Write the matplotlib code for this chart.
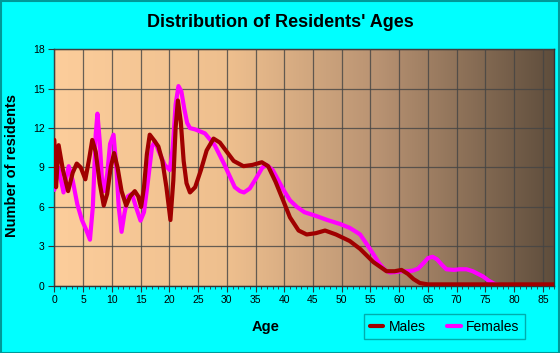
import numpy as np
import matplotlib.pyplot as plt
from matplotlib.colors import LinearSegmentedColormap
from matplotlib.patches import Rectangle

plt.rcParams['font.family'] = ['Liberation Sans', 'DejaVu Sans']

# Males: age -> number of residents
male_age = [0, 0.3, 0.75, 1.5, 2.4, 3.2, 3.9, 4.6, 5.4, 6.0, 6.6, 7.2, 7.9, 8.6, 9.2,
            9.8, 10.4, 11.0, 11.7, 12.5, 13.2, 14.0, 14.6, 15.1, 15.6, 16.1, 16.6,
            17.3, 18.1, 18.8, 19.5, 20.2, 20.7, 21.1, 21.5, 22.0, 22.5, 23.0, 23.6,
            24.5, 25.5, 26.5, 27.7, 28.8, 30.0, 31.2, 32.9, 34.5, 36.1, 37.2, 38.5,
            39.8, 41.0, 42.5, 43.9, 45.5, 47.1, 49.0, 51.4, 53.2, 55.5, 57.8, 59.2,
            60.4, 61.5, 62.5, 63.6, 65, 70, 75, 80, 87]
male_val = [11.1, 7.5, 10.7, 8.8, 7.2, 8.6, 9.3, 9.0, 8.1, 9.5, 11.1, 10.2, 7.8, 6.1, 7.0,
            9.0, 10.1, 9.0, 7.2, 6.1, 6.8, 7.2, 6.8, 6.0, 7.5, 10.0, 11.5,
            11.1, 10.6, 9.5, 7.5, 5.0, 8.0, 12.0, 14.1, 12.5, 9.5, 7.8, 7.1,
            7.5, 8.8, 10.3, 11.2, 10.9, 10.2, 9.5, 9.1, 9.2, 9.4, 9.1, 7.9,
            6.5, 5.2, 4.2, 3.9, 4.0, 4.2, 3.9, 3.4, 2.8, 1.8, 1.1, 1.1,
            1.2, 0.9, 0.5, 0.2, 0.1, 0.1, 0.1, 0.1, 0.1]

# Females
female_age = [0, 0.7, 1.6, 2.5, 3.2, 4.0, 4.8, 5.5, 6.2, 6.7, 7.2, 7.5, 7.9, 8.3, 8.7,
              9.2, 9.7, 10.3, 10.8, 11.2, 11.7, 12.2, 12.8, 13.5, 14.2, 15.0, 15.6,
              16.3, 17.0, 17.5, 18.2, 19.2, 20.1, 20.6, 21.1, 21.6, 22.1, 22.6, 23.1,
              23.6, 24.5, 26.2, 27.9, 29.5, 31.4, 32.3, 33.0, 34.0, 35.0, 36.2, 36.9,
              38.0, 39.0, 40.0, 41.0, 42.2, 43.5, 45.6, 47.5, 49.7, 51.4, 52.5, 53.2,
              54.3, 55.5, 56.5, 57.5, 58.4, 59.5, 60.5, 61.5, 62.4, 63.3, 64.2, 65.0,
              65.8, 66.6, 67.4, 68.2, 69.5, 70.5, 71.7, 72.8, 73.7, 74.6, 75.5, 76.5,
              77.5]
female_val = [7.3, 9.0, 7.1, 9.1, 8.0, 6.2, 5.0, 4.3, 3.5, 6.0, 11.5, 13.1, 11.0, 8.0, 7.2,
              8.5, 10.8, 11.5, 9.0, 6.0, 4.1, 5.5, 6.8, 7.0, 6.0, 4.95, 5.6,
              8.0, 10.6, 11.0, 10.2, 9.2, 8.8, 10.5, 13.8, 15.2, 14.8, 13.5, 12.4,
              12.0, 11.9, 11.6, 10.7, 9.3, 7.5, 7.2, 7.1, 7.4, 8.1, 9.0, 9.2,
              8.8, 8.0, 7.2, 6.5, 6.0, 5.6, 5.3, 5.0, 4.7, 4.4, 4.1, 3.9,
              3.2, 2.4, 1.7, 1.2, 1.0, 1.05, 1.1, 1.1, 1.15, 1.3, 1.7, 2.1,
              2.2, 2.0, 1.6, 1.25, 1.2, 1.25, 1.25, 1.1, 0.9, 0.7, 0.4, 0.15,
              0.05]

x_ticks = list(range(0, 90, 5))
y_ticks = [0, 3, 6, 9, 12, 15, 18]

fig = plt.figure(figsize=(5.6, 3.53), dpi=100, facecolor='#00FFFF')
fig.patches.append(Rectangle((0.001, 0.001), 0.997, 0.996, transform=fig.transFigure,
                             fill=False, edgecolor='#009999', linewidth=1.5))
ax = fig.add_axes([0.097, 0.1907, 0.893, 0.6696])

# background gradient
cmap = LinearSegmentedColormap.from_list('bg', [(0.0, '#FCCD9B'), (0.35, '#EEBF8E'),
                                                (0.65, '#B89272'), (1.0, '#5E4D3C')])
grad = np.linspace(0, 1, 256).reshape(1, -1)
ax.imshow(grad, cmap=cmap, extent=[0, 87, 0, 18], aspect='auto', zorder=0)

ax.plot(female_age, female_val, color='#FF00FF', lw=3, solid_joinstyle='round',
        solid_capstyle='round', label='Females', zorder=3)
ax.plot(male_age, male_val, color='#A00000', lw=3, solid_joinstyle='round',
        solid_capstyle='round', label='Males', zorder=4)

ax.set_xlim(0, 87)
ax.set_ylim(0, 18)
ax.set_xticks(x_ticks)
ax.set_xticks(range(0, 88), minor=True)
ax.set_yticks(y_ticks)
ax.grid(True, color='#444444', lw=0.9, alpha=0.8, zorder=1)
ax.set_axisbelow(False)
for s in ax.spines.values():
    s.set_color('#333333')
    s.set_linewidth(1)
ax.tick_params(axis='both', which='major', labelsize=7.5, length=4, color='#333333', pad=3)
ax.tick_params(axis='x', which='minor', length=2.5, color='#333333')

fig.text(0.5, 0.935, "Distribution of Residents' Ages", ha='center', va='center',
         fontsize=13, fontweight='bold')
fig.text(0.475, 0.073, 'Age', ha='center', va='center', fontsize=10.5, fontweight='bold')
fig.text(0.022, 0.53, 'Number of residents', ha='center', va='center', rotation=90,
         fontsize=10.5, fontweight='bold')

h, l = ax.get_legend_handles_labels()
leg = fig.legend(h[::-1], l[::-1], loc='center', bbox_to_anchor=(0.794, 0.074), ncol=2,
                 frameon=True, fancybox=False, fontsize=10, handlelength=1.0,
                 columnspacing=1.5, handletextpad=0.4, borderpad=0.4)
leg.get_frame().set_facecolor('#00FFFF')
leg.get_frame().set_edgecolor('#009999')
leg.get_frame().set_linewidth(1)

fig.savefig('out.png', dpi=100, facecolor=fig.get_facecolor())
